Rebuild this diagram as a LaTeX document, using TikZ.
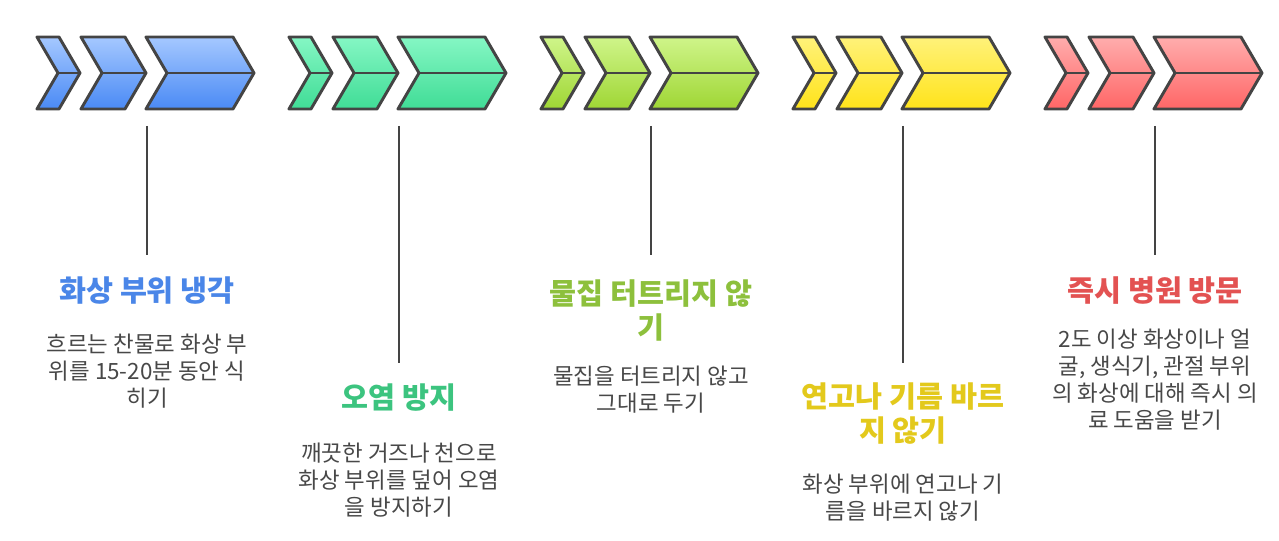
\documentclass[tikz,border=0pt]{standalone}
\usepackage{fontspec}
\setmainfont{Noto Sans CJK KR}
\usetikzlibrary{positioning}
\definecolor{chevgray}{HTML}{444444}
\definecolor{descgray}{HTML}{484848}
\definecolor{blueTop}{HTML}{A5C8FF}
\definecolor{blueBot}{HTML}{4A8AF5}
\definecolor{blueTxt}{HTML}{4A86E8}
\definecolor{greenTop}{HTML}{85F7C4}
\definecolor{greenBot}{HTML}{40DC96}
\definecolor{greenTxt}{HTML}{3CC47F}
\definecolor{limeTop}{HTML}{CFF58A}
\definecolor{limeBot}{HTML}{9FD634}
\definecolor{limeTxt}{HTML}{8DC03C}
\definecolor{yellowTop}{HTML}{FFF27A}
\definecolor{yellowBot}{HTML}{FFE31A}
\definecolor{yellowTxt}{HTML}{E3C91C}
\definecolor{redTop}{HTML}{FFADAD}
\definecolor{redBot}{HTML}{FF6666}
\definecolor{redTxt}{HTML}{E35252}

% one chevron: left x, width, top colour, bottom colour
\newcommand{\chevpiece}[4]{%
  \shadedraw[chev, top color=#3, bottom color=#4]
    (#1,37) -- (#1+#2,37) -- (#1+#2+21,73) -- (#1+#2,109) -- (#1,109) -- (#1+21,73) -- cycle;
  \draw[chev] (#1+21,73) -- (#1+#2+21,73);}
% three chevrons of one step
\newcommand{\chevrow}[3]{%
  \begin{scope}[shift={(#1,0)}]
    \chevpiece{0}{22}{#2}{#3}
    \chevpiece{44}{44}{#2}{#3}
    \chevpiece{109}{87}{#2}{#3}
  \end{scope}}

\begin{document}
\begin{tikzpicture}[
  x=0.75pt, y=-0.75pt,
  chev/.style={draw=chevgray, line width=2.2pt, line join=round},
  stem/.style={draw=chevgray, line width=2.2pt},
  title/.style={font=\fontsize{22}{25.5}\selectfont\bfseries, align=center, anchor=north, inner sep=0pt},
  desc/.style={font=\fontsize{16.8}{20.2}\selectfont, text=descgray, align=center, anchor=north, inner sep=0pt}
]
  \useasboundingbox[fill=white] (0,0) rectangle (1279,541);

  % Chevron rows (x = 37, 289, 541, 793, 1045)
  \chevrow{37}{blueTop}{blueBot}
  \chevrow{289}{greenTop}{greenBot}
  \chevrow{541}{limeTop}{limeBot}
  \chevrow{793}{yellowTop}{yellowBot}
  \chevrow{1045}{redTop}{redBot}

  % Stem tops
  \coordinate (s1) at (147,126);
  \coordinate (s2) at (399,126);
  \coordinate (s3) at (651,126);
  \coordinate (s4) at (903,126);
  \coordinate (s5) at (1155,126);

  % Titles
  \node[title, text=blueTxt] (t1) at (147,276) {화상 부위 냉각};
  \node[title, text=greenTxt] (t2) at (399,384) {오염 방지};
  \node[title, text=limeTxt] (t3) at (651,279) {물집 터트리지 않\\기};
  \node[title, text=yellowTxt] (t4) at (903,382) {연고나 기름 바르\\지 않기};
  \node[title, text=redTxt] (t5) at (1155,276) {즉시 병원 방문};

  % Descriptions
  \node[desc] (d1) at (147,334) {흐르는 찬물로 화상 부\\위를 15-20분 동안 식\\히기};
  \node[desc] (d2) at (399,443) {깨끗한 거즈나 천으로\\화상 부위를 덮어 오염\\을 방지하기};
  \node[desc] (d3) at (651,366) {물집을 터트리지 않고\\그대로 두기};
  \node[desc] (d4) at (903,474) {화상 부위에 연고나 기\\름을 바르지 않기};
  \node[desc] (d5) at (1155,329) {2도 이상 화상이나 얼\\굴, 생식기, 관절 부위\\의 화상에 대해 즉시 의\\료 도움을 받기};

  % Stems
  \draw[stem] (s1) -- ([yshift=16pt]t1.north);
  \draw[stem] (s2) -- ([yshift=16pt]t2.north);
  \draw[stem] (s3) -- ([yshift=18pt]t3.north);
  \draw[stem] (s4) -- ([yshift=14pt]t4.north);
  \draw[stem] (s5) -- ([yshift=16pt]t5.north);
\end{tikzpicture}
\end{document}
